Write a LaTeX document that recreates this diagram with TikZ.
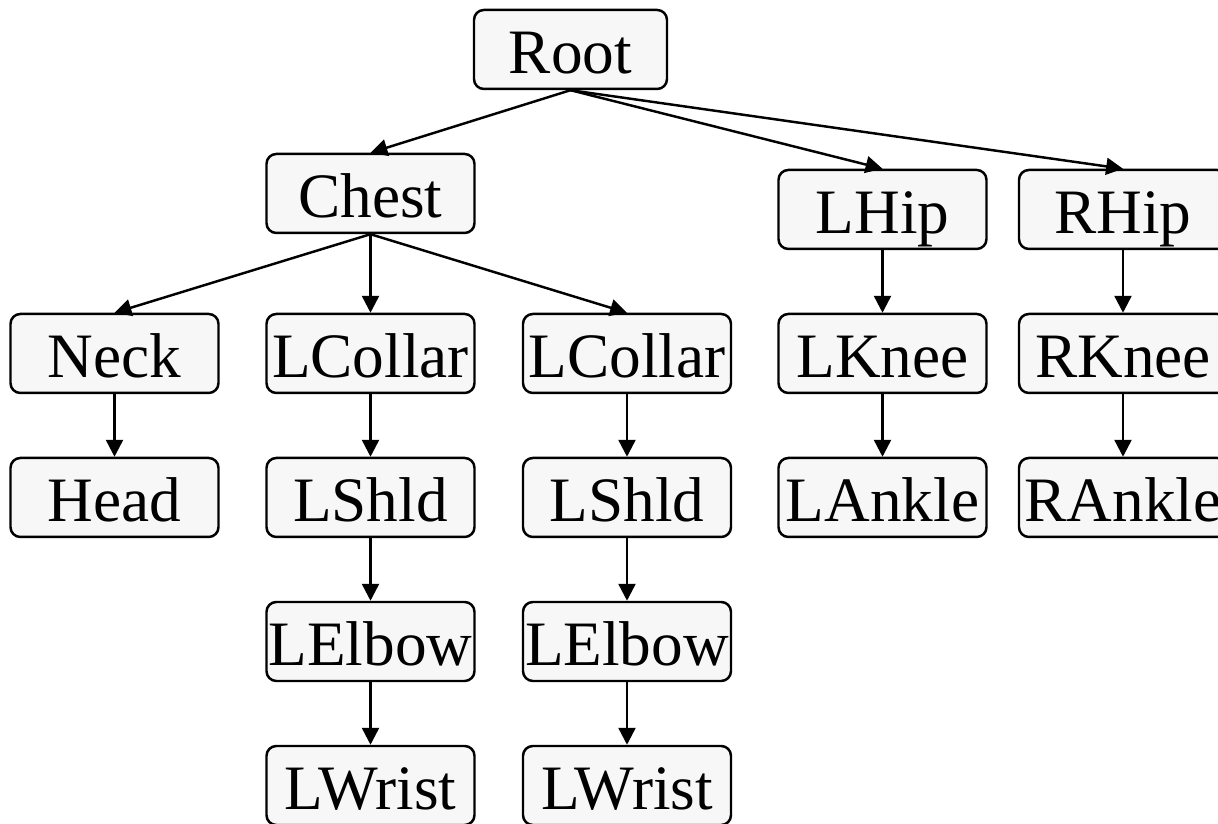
\documentclass[tikz,border=0pt]{standalone}
\usepackage{fontspec}
\setmainfont{Liberation Serif}
\usetikzlibrary{arrows.meta}
\definecolor{jtFill}{HTML}{F7F7F7}

\begin{document}
\begin{tikzpicture}[
      joint/.style={draw,fill=jtFill,rounded corners=2.8pt,line width=0.7pt,
                    minimum width=2.08cm,minimum height=0.79cm,
                    inner xsep=0pt,inner ysep=1pt,
                    text height=13.6pt,text depth=0pt,
                    font=\fontsize{18}{21}\selectfont},
      link/.style={-{Triangle[length=4.8pt,width=4.8pt]},line width=0.7pt}]
    \useasboundingbox (0,0) rectangle (12.18,8.24);

    \node[joint,minimum width=1.93cm] (root) at (5.705,7.745) {Root};

    \node[joint] (chest) at (3.705,6.305) {Chest};
    \node[joint] (lhip)  at (8.825,6.145) {LHip};
    \node[joint] (rhip)  at (11.23,6.145) {RHip};

    \node[joint] (neck)    at (1.145,4.705) {Neck};
    \node[joint] (lcollar) at (3.705,4.705) {LCollar};
    \node[joint] (rcollar) at (6.27,4.705)  {LCollar};
    \node[joint] (lknee)   at (8.825,4.705) {LKnee};
    \node[joint] (rknee)   at (11.23,4.705) {RKnee};

    \node[joint] (head)   at (1.145,3.265) {Head};
    \node[joint] (lshld)  at (3.705,3.265) {LShld};
    \node[joint] (rshld)  at (6.27,3.265)  {LShld};
    \node[joint] (lankle) at (8.825,3.265) {LAnkle};
    \node[joint] (rankle) at (11.23,3.265) {RAnkle};

    \node[joint] (lelbow) at (3.705,1.825) {LElbow};
    \node[joint] (relbow) at (6.27,1.825)  {LElbow};

    \node[joint] (lwrist) at (3.705,0.385) {LWrist};
    \node[joint] (rwrist) at (6.27,0.385)  {LWrist};

    \foreach \t in {chest,lhip,rhip}
      \draw[link] (root.south) -- (\t.north);
    \foreach \t in {neck,lcollar,rcollar}
      \draw[link] (chest.south) -- (\t.north);
    \foreach \a/\b in {neck/head,lcollar/lshld,lshld/lelbow,lelbow/lwrist,
                       rcollar/rshld,rshld/relbow,relbow/rwrist,
                       lhip/lknee,lknee/lankle,rhip/rknee,rknee/rankle}
      \draw[link] (\a) -- (\b);
  \end{tikzpicture}
\end{document}
